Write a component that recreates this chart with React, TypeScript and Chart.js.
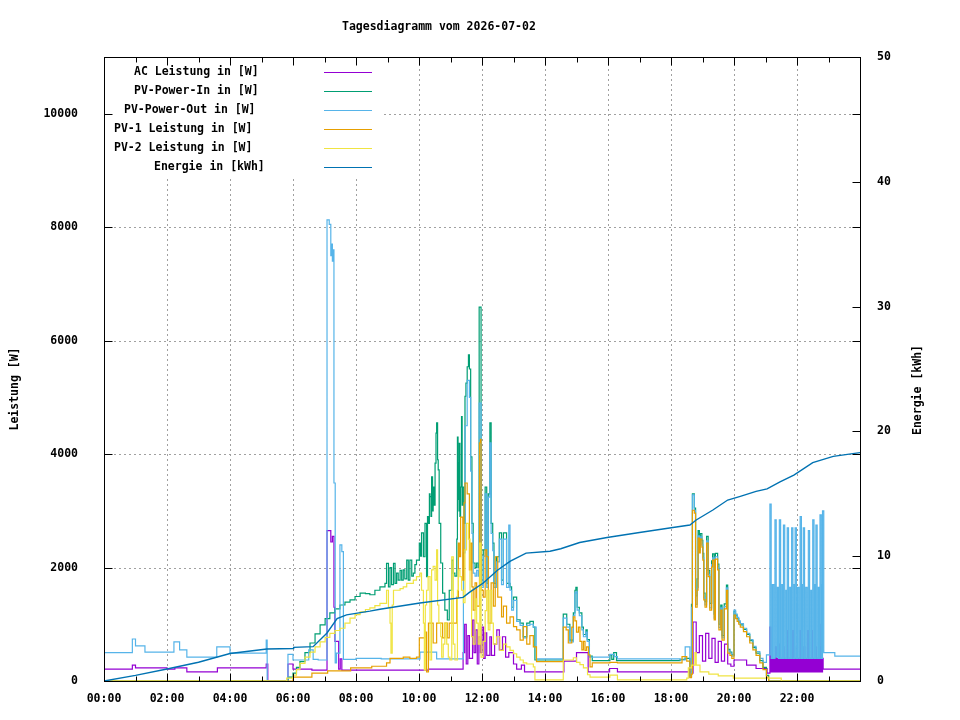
import { useEffect, useRef } from "react";
import Chart from "chart.js/auto";

const FONT = '"DejaVu Sans Mono", "Liberation Mono", monospace';

// values (time in hours, power in W, energy in kWh)
const acTimes = [0, 0.9, 1.0, 2.0, 2.25, 2.63, 3.6, 5.15, 5.2, 5.84, 6.0, 6.6, 7.08, 7.2, 7.25, 7.3, 7.33, 7.45, 7.5, 7.55, 10.3, 11.4, 11.45, 11.5, 11.55, 11.6, 11.7, 11.75, 11.8, 11.85, 11.9, 11.95, 12.0, 12.05, 12.1, 12.15, 12.25, 12.3, 12.4, 12.47, 12.55, 12.65, 12.75, 12.85, 13.0, 13.1, 13.25, 13.35, 14.6, 15.0, 15.37, 16.05, 16.3, 18.67, 18.7, 18.8, 18.9, 19.0, 19.1, 19.2, 19.3, 19.4, 19.5, 19.6, 19.7, 19.8, 19.9, 20.0, 20.4, 20.7, 21.05, 21.14, 21.17, 21.2, 21.23, 21.26, 21.29, 21.32, 21.35, 21.38, 21.41, 21.44, 21.47, 21.5, 21.53, 21.56, 21.59, 21.62, 21.65, 21.68, 21.71, 21.74, 21.77, 21.8, 21.83, 21.86, 21.89, 21.92, 21.95, 21.98, 22.01, 22.04, 22.07, 22.1, 22.13, 22.16, 22.19, 22.22, 22.25, 22.28, 22.31, 22.34, 22.37, 22.4, 22.43, 22.46, 22.49, 22.52, 22.55, 22.58, 22.61, 22.64, 22.67, 22.7, 22.73, 22.76, 22.79, 22.81, 22.83, 24];
const acValues = [210, 280, 230, 210, 230, 160, 230, 300, 0, 300, 210, 190, 2650, 2450, 2550, 1300, 700, 210, 390, 190, 210, 500, 1000, 300, 800, 400, 1075, 500, 900, 300, 780, 500, 950, 400, 850, 450, 780, 450, 650, 900, 550, 780, 420, 500, 300, 210, 280, 160, 350, 500, 160, 220, 160, 140, 1040, 500, 800, 350, 840, 400, 750, 330, 700, 350, 650, 300, 260, 370, 280, 220, 140, 950, 160, 400, 160, 380, 160, 600, 160, 400, 160, 650, 160, 400, 160, 600, 160, 400, 160, 890, 160, 400, 160, 600, 160, 890, 160, 400, 160, 600, 160, 400, 160, 890, 160, 400, 160, 600, 160, 400, 160, 890, 160, 400, 160, 890, 160, 400, 160, 600, 160, 400, 160, 600, 160, 1000, 160, 400, 210, 210];

const pvInTimes = [0, 5.8, 5.85, 6.0, 6.11, 6.22, 6.38, 6.54, 6.7, 6.86, 7.02, 7.17, 7.33, 7.49, 7.65, 7.81, 7.97, 8.13, 8.3, 8.44, 8.6, 8.76, 8.92, 8.97, 9.03, 9.08, 9.13, 9.19, 9.24, 9.29, 9.34, 9.4, 9.45, 9.5, 9.55, 9.61, 9.66, 9.71, 9.77, 9.82, 9.87, 9.92, 10.01, 10.05, 10.08, 10.14, 10.19, 10.24, 10.27, 10.3, 10.33, 10.35, 10.38, 10.4, 10.43, 10.45, 10.48, 10.51, 10.54, 10.56, 10.59, 10.61, 10.64, 10.69, 10.75, 10.82, 10.9, 10.96, 11.04, 11.09, 11.14, 11.2, 11.22, 11.24, 11.25, 11.27, 11.28, 11.3, 11.32, 11.35, 11.37, 11.39, 11.43, 11.46, 11.49, 11.53, 11.57, 11.6, 11.64, 11.68, 11.72, 11.78, 11.83, 11.88, 11.91, 11.97, 12.04, 12.1, 12.15, 12.2, 12.25, 12.29, 12.34, 12.38, 12.46, 12.55, 12.62, 12.68, 12.78, 12.89, 12.94, 13.0, 13.1, 13.21, 13.31, 13.42, 13.52, 13.63, 13.68, 14.58, 14.69, 14.79, 14.9, 14.95, 14.98, 15.02, 15.09, 15.17, 15.22, 15.3, 15.34, 15.41, 15.5, 16.06, 16.12, 16.18, 16.27, 18.29, 18.45, 18.6, 18.65, 18.68, 18.74, 18.78, 18.83, 18.86, 18.9, 18.93, 18.98, 19.01, 19.04, 19.08, 19.13, 19.18, 19.23, 19.29, 19.32, 19.37, 19.41, 19.48, 19.52, 19.58, 19.62, 19.69, 19.76, 19.8, 19.87, 19.93, 20.0, 20.05, 20.1, 20.15, 20.2, 20.3, 20.4, 20.5, 20.6, 20.7, 20.82, 20.92, 21.03, 21.1, 24];
const pvInValues = [0, 0, 70, 140, 240, 340, 500, 670, 830, 990, 1100, 1200, 1270, 1340, 1390, 1430, 1490, 1550, 1540, 1520, 1600, 1660, 1720, 2075, 1660, 2000, 1700, 2075, 1720, 1900, 1780, 1950, 1780, 1960, 1800, 2130, 1780, 2130, 1850, 1900, 2050, 2130, 2430, 2200, 2610, 2190, 2780, 1840, 2900, 2780, 3300, 3250, 2900, 3600, 3000, 3420, 3100, 3840, 4370, 4550, 3900, 3720, 2780, 2080, 1550, 1250, 1075, 1600, 2130, 1900, 1850, 2500, 4300, 3200, 3840, 3000, 4190, 2900, 3420, 4660, 3100, 3420, 2780, 5020, 5250, 5540, 5750, 5500, 3950, 2780, 2080, 2000, 2080, 2000, 6590, 1720, 2310, 3420, 1720, 3300, 4550, 2780, 2430, 1720, 2190, 2610, 1780, 2610, 1720, 1660, 1300, 1480, 1080, 1020, 780, 1020, 1050, 950, 370, 1180, 1000, 720, 1200, 1600, 1650, 1300, 1200, 950, 820, 900, 730, 440, 360, 460, 380, 500, 360, 380, 400, 90, 1350, 3300, 3050, 1500, 1800, 2650, 2400, 2600, 2480, 2250, 1550, 1400, 2550, 1950, 1370, 2120, 2240, 1180, 2250, 2060, 1000, 1340, 800, 1360, 1690, 560, 510, 460, 1230, 1160, 1100, 1040, 990, 910, 820, 710, 590, 490, 360, 240, 100, 0, 0];

const pvOutTimes = [0, 0.9, 1.0, 1.3, 2.22, 2.4, 2.63, 3.58, 4.0, 5.15, 5.18, 5.84, 6.0, 6.5, 6.64, 6.8, 7.08, 7.15, 7.2, 7.22, 7.25, 7.27, 7.3, 7.34, 7.38, 7.49, 7.55, 7.6, 8.0, 8.8, 10.03, 10.56, 11.41, 11.46, 11.53, 11.6, 11.64, 11.68, 11.72, 11.78, 11.83, 11.88, 11.91, 11.97, 12.04, 12.1, 12.15, 12.2, 12.25, 12.29, 12.34, 12.38, 12.46, 12.55, 12.62, 12.68, 12.78, 12.85, 12.89, 12.94, 13.0, 13.1, 13.21, 13.31, 13.42, 13.52, 13.63, 13.72, 14.58, 14.69, 14.79, 14.9, 14.95, 14.98, 15.02, 15.09, 15.17, 15.22, 15.3, 15.34, 15.41, 16.06, 16.2, 16.3, 18.29, 18.45, 18.6, 18.65, 18.68, 18.74, 18.78, 18.83, 18.86, 18.9, 18.93, 18.98, 19.01, 19.04, 19.08, 19.13, 19.18, 19.23, 19.29, 19.32, 19.37, 19.41, 19.48, 19.52, 19.58, 19.62, 19.69, 19.76, 19.8, 19.87, 19.93, 20.0, 20.05, 20.1, 20.15, 20.2, 20.3, 20.4, 20.5, 20.6, 20.7, 20.82, 20.92, 21.03, 21.14, 21.18, 21.22, 21.26, 21.3, 21.34, 21.38, 21.41, 21.44, 21.48, 21.52, 21.54, 21.57, 21.61, 21.65, 21.67, 21.69, 21.73, 21.77, 21.8, 21.83, 21.87, 21.91, 21.92, 21.94, 21.98, 22.02, 22.06, 22.1, 22.14, 22.17, 22.18, 22.2, 22.24, 22.28, 22.32, 22.36, 22.4, 22.44, 22.46, 22.5, 22.54, 22.57, 22.58, 22.6, 22.64, 22.68, 22.7, 22.73, 22.77, 22.79, 22.8, 22.81, 22.85, 23.2, 24];
const pvOutValues = [500, 740, 620, 510, 690, 550, 420, 600, 490, 720, 0, 470, 370, 550, 380, 370, 8130, 8050, 7500, 7700, 7400, 7600, 3490, 320, 490, 2400, 2280, 380, 400, 390, 510, 390, 2260, 4500, 5300, 5000, 3700, 2600, 1900, 1850, 1950, 1850, 4900, 1650, 2200, 3300, 1650, 3240, 4200, 2600, 2300, 1650, 2100, 2500, 1700, 2500, 1650, 2750, 1600, 1250, 1420, 1050, 980, 760, 980, 1000, 950, 390, 1110, 950, 690, 1150, 1550, 1570, 1250, 1150, 900, 780, 860, 700, 420, 470, 430, 390, 370, 600, 70, 1300, 3280, 3010, 1350, 1650, 2560, 2300, 2540, 2400, 2170, 1470, 1340, 2470, 1880, 1290, 2050, 2170, 1110, 2190, 2000, 940, 1290, 760, 1310, 1640, 530, 490, 440, 1250, 1180, 1120, 1060, 1010, 930, 840, 730, 610, 520, 400, 330, 460, 3120, 400, 1700, 400, 2840, 420, 1650, 400, 2840, 400, 1700, 400, 2750, 400, 1600, 400, 2700, 400, 1650, 400, 2700, 400, 1700, 400, 2700, 400, 1650, 400, 2900, 400, 1700, 400, 2700, 400, 1650, 400, 2650, 400, 1600, 400, 2840, 400, 1700, 400, 2750, 400, 1650, 400, 2930, 400, 1700, 400, 3000, 500, 440, 440];

const pv1Times = [0, 5.9, 6.0, 6.6, 7.1, 7.83, 8.5, 8.97, 9.08, 9.5, 9.71, 9.92, 10.01, 10.19, 10.24, 10.3, 10.45, 10.56, 10.75, 10.82, 10.9, 10.96, 11.2, 11.25, 11.28, 11.32, 11.39, 11.43, 11.46, 11.53, 11.6, 11.64, 11.68, 11.72, 11.78, 11.83, 11.92, 11.95, 11.97, 12.04, 12.1, 12.15, 12.2, 12.29, 12.36, 12.42, 12.5, 12.62, 12.68, 12.78, 12.89, 13.0, 13.1, 13.21, 13.31, 13.42, 13.52, 13.63, 13.73, 14.58, 14.67, 14.74, 14.85, 14.9, 14.95, 15.0, 15.06, 15.11, 15.17, 15.22, 15.27, 15.32, 15.38, 15.43, 15.5, 16.06, 16.3, 18.35, 18.5, 18.6, 18.65, 18.68, 18.74, 18.78, 18.83, 18.86, 18.9, 18.93, 18.98, 19.01, 19.04, 19.08, 19.13, 19.18, 19.23, 19.29, 19.32, 19.37, 19.41, 19.48, 19.52, 19.58, 19.62, 19.69, 19.76, 19.8, 19.87, 19.93, 20.0, 20.05, 20.1, 20.15, 20.2, 20.3, 20.4, 20.5, 20.6, 20.7, 20.82, 20.92, 21.03, 21.1, 24];
const pv1Values = [0, 0, 70, 140, 180, 230, 260, 320, 400, 420, 400, 420, 760, 860, 160, 1020, 670, 1020, 760, 1020, 760, 1020, 1480, 2430, 2190, 2890, 1780, 3140, 3490, 3300, 1960, 2430, 1660, 1250, 1730, 1320, 4200, 4260, 1600, 1480, 2310, 2190, 1020, 1730, 1320, 2190, 1480, 1130, 1320, 1020, 1130, 960, 900, 720, 960, 650, 800, 600, 340, 950, 900, 670, 950, 1130, 1060, 860, 950, 700, 550, 700, 540, 600, 460, 250, 320, 330, 320, 430, 350, 60, 120, 3010, 2960, 1300, 1600, 2520, 2260, 2500, 2360, 2130, 1430, 1300, 2430, 1840, 1250, 2010, 2130, 1075, 2150, 1960, 900, 1250, 720, 1270, 1600, 490, 450, 400, 1160, 1100, 1050, 1000, 950, 870, 780, 670, 550, 450, 320, 200, 70, 0, 0];

const pv2Times = [0, 5.59, 5.8, 6.01, 6.11, 6.22, 6.38, 6.54, 6.7, 6.86, 7.02, 7.17, 7.33, 7.49, 7.65, 7.81, 7.97, 8.13, 8.3, 8.44, 8.6, 8.76, 8.97, 9.03, 9.08, 9.11, 9.15, 9.19, 9.29, 9.4, 9.5, 9.61, 9.71, 9.82, 9.92, 10.03, 10.08, 10.14, 10.17, 10.2, 10.24, 10.29, 10.35, 10.4, 10.45, 10.51, 10.56, 10.59, 10.63, 10.69, 10.72, 10.77, 10.82, 10.88, 10.93, 10.98, 11.04, 11.09, 11.14, 11.22, 11.25, 11.3, 11.35, 11.41, 11.46, 11.51, 11.57, 11.62, 11.67, 11.72, 11.78, 11.83, 11.88, 11.93, 11.97, 12.04, 12.1, 12.15, 12.2, 12.25, 12.31, 12.36, 12.46, 12.57, 12.68, 12.78, 12.89, 13.0, 13.1, 13.21, 13.31, 13.42, 13.63, 13.68, 14.58, 14.9, 15.0, 15.11, 15.22, 15.35, 15.43, 16.06, 16.3, 18.5, 18.55, 18.65, 18.76, 18.8, 18.92, 19.2, 19.5, 19.98, 21.5, 24];
const pv2Values = [0, 0, 50, 105, 200, 310, 420, 510, 600, 690, 770, 840, 890, 930, 1020, 1110, 1170, 1220, 1260, 1290, 1330, 1370, 1600, 1300, 1020, 490, 1340, 1600, 1600, 1630, 1660, 1720, 1720, 1780, 1840, 1900, 1600, 1020, 190, 1340, 1600, 1840, 370, 1960, 2020, 1780, 2310, 1340, 1020, 780, 420, 650, 1020, 650, 420, 370, 2190, 650, 370, 1600, 1960, 1840, 1600, 1380, 2310, 2780, 2500, 1600, 780, 650, 1450, 1020, 650, 2430, 420, 700, 1240, 1600, 900, 1600, 1020, 650, 780, 540, 650, 600, 540, 480, 420, 370, 320, 300, 250, 20, 370, 410, 330, 290, 230, 110, 70, 105, 20, 50, 230, 280, 500, 280, 160, 120, 90, 50, 0, 0];

const energyTimes = [0, 1, 2, 3, 4, 5.17, 6.0, 6.02, 6.64, 7.08, 7.4, 7.7, 8.44, 8.76, 10.03, 11.4, 11.6, 12.04, 12.5, 12.9, 13.4, 14.16, 14.5, 15.1, 15.97, 17.0, 18.06, 18.6, 18.8, 19.33, 19.8, 20.2, 20.7, 21.05, 21.46, 21.9, 22.5, 23.15, 24];
const energyValues = [0, 0.45, 0.96, 1.5, 2.2, 2.56, 2.6, 2.7, 2.75, 3.85, 5.0, 5.3, 5.6, 5.75, 6.25, 6.7, 7.1, 7.85, 8.9, 9.6, 10.25, 10.4, 10.6, 11.1, 11.5, 11.9, 12.3, 12.5, 12.9, 13.7, 14.5, 14.8, 15.2, 15.4, 15.95, 16.5, 17.5, 18.0, 18.3];

const powerTicks = [0, 2000, 4000, 6000, 8000, 10000];
const energyTicks = [0, 10, 20, 30, 40, 50];

const seriesLabels = ["AC Leistung in [W]", "PV-Power-In in [W]", "PV-Power-Out in [W]", "PV-1 Leistung in [W]", "PV-2 Leistung in [W]", "Energie in [kWh]"];
const seriesColors = ["#9400d3", "#009e73", "#56b4e9", "#e69f00", "#f0e442", "#0072b2"];
const legendTextX = [134, 134, 124, 114, 114, 154];

const toPoints = (t: number[], v: number[]) => t.map((x, i) => ({ x, y: v[i] }));
const hourLabel = (v: number) => (v >= 24 ? "" : String(v).padStart(2, "0") + ":00");

const gnuplotFrame = {
  id: "gnuplotFrame",
  beforeDatasetsDraw(chart: any) {
    const { ctx, chartArea: a, scales } = chart;
    ctx.save();
    ctx.strokeStyle = "#a0a0a0";
    ctx.lineWidth = 1;
    ctx.setLineDash([2, 3]);
    ctx.beginPath();
    for (const t of scales.x.ticks) {
      if (t.value <= 0 || t.value >= 24) continue;
      const px = Math.round(scales.x.getPixelForValue(t.value)) + 0.5;
      ctx.moveTo(px, a.bottom);
      ctx.lineTo(px, a.top);
    }
    for (const t of scales.y.ticks) {
      if (t.value <= 0) continue;
      const py = Math.round(scales.y.getPixelForValue(t.value)) + 0.5;
      ctx.moveTo(a.left, py);
      ctx.lineTo(a.right, py);
    }
    ctx.stroke();
    ctx.restore();
  },
  afterDatasetsDraw(chart: any) {
    const { ctx, chartArea: a, scales } = chart;
    ctx.save();
    // legend box, opaque so it hides the grid behind it
    ctx.fillStyle = "#fff";
    ctx.fillRect(a.left + 1, a.top + 1, 382 - a.left, 178 - a.top);
    ctx.font = "bold 11.5px " + FONT;
    ctx.textBaseline = "middle";
    ctx.textAlign = "left";
    seriesLabels.forEach((lab, i) => {
      const y = 72 + i * 19;
      ctx.fillStyle = "#000";
      ctx.fillText(lab, legendTextX[i], y);
      ctx.fillStyle = seriesColors[i];
      ctx.fillRect(324, y, 48, 1);
    });

    // border + inward ticks
    ctx.strokeStyle = "#000";
    ctx.lineWidth = 1;
    ctx.setLineDash([]);
    const L = Math.round(a.left) + 0.5, R = Math.round(a.right) + 0.5;
    const T = Math.round(a.top) + 0.5, B = Math.round(a.bottom) + 0.5;
    ctx.strokeRect(L, T, R - L, B - T);
    ctx.beginPath();
    for (let h = 1; h < 24; h++) {
      const px = Math.round(scales.x.getPixelForValue(h)) + 0.5;
      const len = h % 2 === 0 ? 8 : 5;
      ctx.moveTo(px, B); ctx.lineTo(px, B - len);
      ctx.moveTo(px, T); ctx.lineTo(px, T + len);
    }
    for (const t of scales.y.ticks) {
      const py = Math.round(scales.y.getPixelForValue(t.value)) + 0.5;
      ctx.moveTo(L, py); ctx.lineTo(L + 8, py);
      ctx.moveTo(R, py); ctx.lineTo(R - 8, py);
    }
    for (const t of scales.y1.ticks) {
      const py = Math.round(scales.y1.getPixelForValue(t.value)) + 0.5;
      ctx.moveTo(R, py); ctx.lineTo(R - 8, py);
    }
    ctx.stroke();

    // title and axis titles
    ctx.fillStyle = "#000";
    ctx.textAlign = "left";
    ctx.fillText("Tagesdiagramm vom 2026-07-02", 342, 27);
    ctx.textAlign = "center";
    ctx.translate(15, 389);
    ctx.rotate(-Math.PI / 2);
    ctx.fillText("Leistung [W]", 0, 0);
    ctx.setTransform(1, 0, 0, 1, 0, 0);
    ctx.translate(918, 390);
    ctx.rotate(-Math.PI / 2);
    ctx.fillText("Energie [kWh]", 0, 0);
    ctx.restore();
  },
};

export default function App() {
  const canvasRef = useRef<HTMLCanvasElement | null>(null);
  const chartRef = useRef<Chart | null>(null);

  useEffect(() => {
    document.body.style.margin = "0";
    if (!canvasRef.current) return;
    if (chartRef.current) chartRef.current.destroy();

    const tickFont = { family: FONT, size: 11.5, weight: "bold" as const };
    const powerSets = [
      [acTimes, acValues],
      [pvInTimes, pvInValues],
      [pvOutTimes, pvOutValues],
      [pv1Times, pv1Values],
      [pv2Times, pv2Values],
    ];
    const datasets: any[] = powerSets.map(([t, v], i) => ({
      label: seriesLabels[i],
      data: toPoints(t, v),
      borderColor: seriesColors[i],
      borderWidth: 1.2,
      pointRadius: 0,
      stepped: "before", // value holds until the next sample, like gnuplot "steps"
      yAxisID: "y",
      order: 6 - i,
    }));
    datasets.push({
      label: seriesLabels[5],
      data: toPoints(energyTimes, energyValues),
      borderColor: seriesColors[5],
      borderWidth: 1.4,
      pointRadius: 0,
      yAxisID: "y1",
      order: 1,
    });

    chartRef.current = new Chart(canvasRef.current, {
      type: "line",
      data: { datasets },
      options: {
        animation: false,
        responsive: false,
        devicePixelRatio: 1,
        layout: { padding: { top: 57, left: 0, right: 0, bottom: 0 } },
        plugins: { legend: { display: false }, tooltip: { enabled: false } },
        scales: {
          x: {
            type: "linear",
            min: 0,
            max: 24,
            grid: { display: false },
            border: { display: false },
            ticks: { stepSize: 2, color: "#000", font: tickFont, padding: 3, maxRotation: 0, autoSkip: false, callback: (v: any) => hourLabel(Number(v)) },
            afterFit: (s: any) => { s.height = 39; s.paddingLeft = 0; s.paddingRight = 0; },
          },
          y: {
            position: "left",
            min: 0,
            max: 11000,
            grid: { display: false },
            border: { display: false },
            ticks: { color: "#000", font: tickFont, padding: 18, callback: (v: any) => String(v) },
            afterBuildTicks: (s: any) => { s.ticks = powerTicks.map((value) => ({ value })); },
            afterFit: (s: any) => { s.width = 104; s.paddingTop = 0; s.paddingBottom = 0; },
          },
          y1: {
            position: "right",
            min: 0,
            max: 50,
            grid: { display: false },
            border: { display: false },
            ticks: { color: "#000", font: tickFont, padding: 9, callback: (v: any) => String(v) },
            afterBuildTicks: (s: any) => { s.ticks = energyTicks.map((value) => ({ value })); },
            afterFit: (s: any) => { s.width = 100; s.paddingTop = 0; s.paddingBottom = 0; },
          },
        },
      } as any,
      plugins: [gnuplotFrame],
    });

    return () => {
      if (chartRef.current) {
        chartRef.current.destroy();
        chartRef.current = null;
      }
    };
  }, []);

  return <canvas ref={canvasRef} width={960} height={720} style={{ display: "block" }}></canvas>;
}
